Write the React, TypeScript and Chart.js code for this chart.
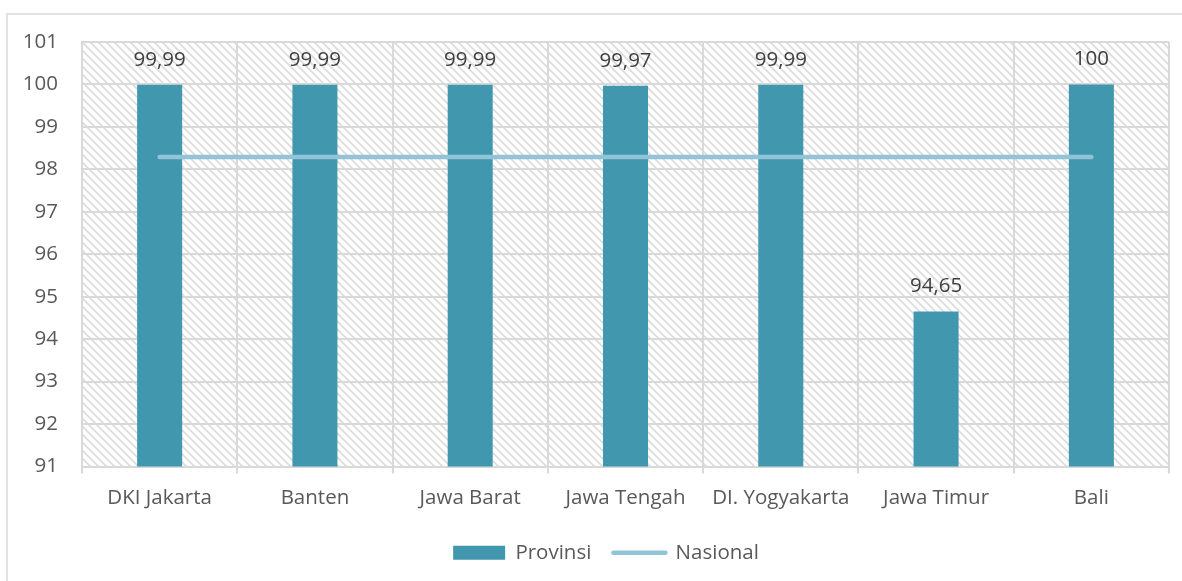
import React, { useEffect, useRef } from "react";
import { Chart, registerables } from "chart.js";

Chart.register(...registerables);

const categories = [
  "DKI Jakarta",
  "Banten",
  "Jawa Barat",
  "Jawa Tengah",
  "DI. Yogyakarta",
  "Jawa Timur",
  "Bali",
];
const provinsi = [99.99, 99.99, 99.99, 99.97, 99.99, 94.65, 100];
const nasional = [98.29, 98.29, 98.29, 98.29, 98.29, 98.29, 98.29];
const yMin = 91;
const yMax = 101;
const yStep = 1;

const BAR_COLOR = "#4198ae";
const LINE_COLOR = "#92c4d7";
const GRID_COLOR = "#d9d9d9";
const TEXT_COLOR = "#595959";
const FONT = "'Open Sans', 'Noto Sans', sans-serif";
const FONT_SIZE = 20.5;

function makeHatch(ctx: CanvasRenderingContext2D) {
  const c = document.createElement("canvas");
  c.width = 8;
  c.height = 8;
  const g = c.getContext("2d")!;
  g.fillStyle = "#ffffff";
  g.fillRect(0, 0, 8, 8);
  g.strokeStyle = "#dcdcdc";
  g.lineWidth = 1.8;
  g.beginPath();
  g.moveTo(-1, -1);
  g.lineTo(9, 9);
  g.moveTo(-1, 7);
  g.lineTo(1, 9);
  g.moveTo(7, -1);
  g.lineTo(9, 1);
  g.stroke();
  return ctx.createPattern(c, "repeat");
}

const hatchPlugin = {
  id: "hatchBg",
  beforeDraw(chart: any) {
    const { ctx, chartArea } = chart;
    const pat = makeHatch(ctx);
    ctx.save();
    ctx.fillStyle = pat || "#fff";
    ctx.fillRect(chartArea.left, chartArea.top, chartArea.right - chartArea.left, chartArea.bottom - chartArea.top);
    ctx.restore();
  },
};

const labelPlugin = {
  id: "barLabels",
  afterDatasetsDraw(chart: any) {
    const { ctx } = chart;
    const meta = chart.getDatasetMeta(0);
    ctx.save();
    ctx.font = `${FONT_SIZE}px ${FONT}`;
    ctx.fillStyle = "#404040";
    ctx.textAlign = "center";
    ctx.textBaseline = "middle";
    meta.data.forEach((bar: any, i: number) => {
      const txt = String(provinsi[i]).replace(".", ",");
      ctx.fillText(txt, bar.x, bar.y - 25);
    });
    ctx.restore();
  },
};

const legendShiftPlugin = {
  id: "legendShift",
  afterLayout(chart: any) {
    if (chart.legend) {
      chart.legend.left += 21.5;
      chart.legend.right += 21.5;
    }
  },
};

export default function App() {
  const ref = useRef<HTMLCanvasElement>(null);

  useEffect(() => {
    if (!ref.current) return;
    const chart = new Chart(ref.current, {
      type: "bar",
      data: {
        labels: categories,
        datasets: [
          {
            type: "bar",
            label: "Provinsi",
            data: provinsi,
            backgroundColor: BAR_COLOR,
            borderWidth: 0,
            categoryPercentage: 1,
            barPercentage: 0.29,
            order: 1,
          },
          {
            type: "line",
            label: "Nasional",
            data: nasional,
            borderColor: LINE_COLOR,
            backgroundColor: LINE_COLOR,
            borderWidth: 4.5,
            borderCapStyle: "round",
            pointRadius: 0,
            order: 0,
          } as any,
        ],
      },
      options: {
        animation: false,
        responsive: false,
        maintainAspectRatio: false,
        layout: { padding: { left: 0, right: 13, top: 42, bottom: 8 } },
        plugins: {
          tooltip: { enabled: false },
          legend: {
            position: "bottom",
            labels: {
              usePointStyle: true,
              pointStyleWidth: 52,
              boxHeight: 14,
              padding: 22,
              color: TEXT_COLOR,
              font: { family: FONT, size: FONT_SIZE },
              sort: (a: any, b: any) => a.datasetIndex - b.datasetIndex,
              generateLabels: (chart: any) =>
                chart.data.datasets.map((ds: any, i: number) => ({
                  text: ds.label,
                  datasetIndex: i,
                  fillStyle: i === 0 ? BAR_COLOR : "rgba(0,0,0,0)",
                  strokeStyle: i === 0 ? BAR_COLOR : LINE_COLOR,
                  lineWidth: i === 0 ? 0 : 4.5,
                  lineCap: "round",
                  pointStyle: i === 0 ? "rect" : "line",
                  fontColor: TEXT_COLOR,
                  hidden: false,
                })),
            },
          },
        },
        scales: {
          x: {
            offset: true,
            grid: {
              offset: true,
              color: GRID_COLOR,
              lineWidth: 2,
              drawTicks: true,
              tickLength: 7,
            },
            border: { display: true, color: GRID_COLOR, width: 2 },
            ticks: {
              color: TEXT_COLOR,
              font: { family: FONT, size: FONT_SIZE },
              padding: 12,
              maxRotation: 0,
              autoSkip: false,
            },
            afterFit: (scale: any) => {
              scale.height = 54;
            },
          },
          y: {
            min: yMin,
            max: yMax,
            ticks: {
              stepSize: yStep,
              color: TEXT_COLOR,
              font: { family: FONT, size: FONT_SIZE },
              padding: 24,
            },
            grid: { color: GRID_COLOR, lineWidth: 2, drawTicks: false },
            border: { display: true, color: GRID_COLOR, width: 2 },
            afterFit: (scale: any) => {
              scale.width = 82;
            },
          },
        },
      },
      plugins: [hatchPlugin, labelPlugin, legendShiftPlugin],
    });
    return () => chart.destroy();
  }, []);

  return (
    <div
      style={{
        position: "fixed",
        left: 0,
        top: 0,
        width: 1182,
        height: 581,
        background: "#fff",
        overflow: "hidden",
      }}
    >
      <div
        style={{
          position: "absolute",
          left: 6,
          top: 13,
          width: 1300,
          height: 700,
          border: "2px solid #e2e2e2",
          boxSizing: "border-box",
        }}
      />
      <canvas
        ref={ref}
        width={1182}
        height={581}
        style={{ position: "absolute", left: 0, top: 0, width: 1182, height: 581 }}
      />
    </div>
  );
}
